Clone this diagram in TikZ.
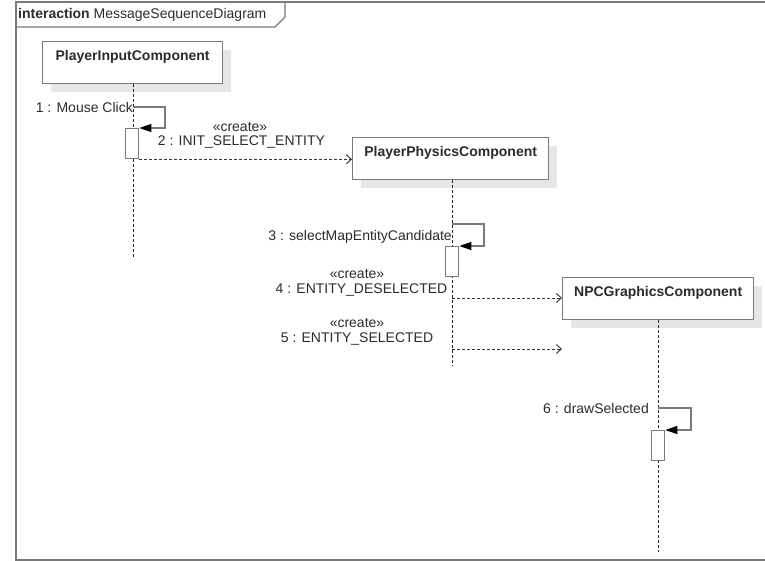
\documentclass[tikz,border=0pt]{standalone}
\usepackage{fontspec}
\setmainfont{Liberation Sans}
\usetikzlibrary{arrows.meta,shadows}
\definecolor{linegray}{HTML}{7A7A7A}
\definecolor{txt}{HTML}{2B2B2B}
\definecolor{shade}{HTML}{E6E6E6}
\tikzset{
  lifebox/.style={draw=linegray, line width=1.3pt, fill=white, rectangle, inner sep=0pt,
    anchor=north west, text height=19pt, text depth=23pt, align=center,
    font=\fontsize{14}{16}\selectfont\bfseries, text=txt,
    general shadow={fill=shade, shadow xshift=8pt, shadow yshift=-8pt}},
  lifeline/.style={draw=black!85, line width=0.9pt, dash pattern=on 3pt off 2pt},
  actbox/.style={draw=linegray, line width=1.3pt, fill=white, rectangle, inner sep=0pt,
    minimum width=13pt, minimum height=30pt, anchor=north west},
  selfmsg/.style={draw=linegray, line width=1.3pt, -{Triangle[length=12pt,width=8pt,color=black,fill=black]}},
  createmsg/.style={draw=black!80, line width=0.9pt, dash pattern=on 3pt off 2pt,
    -{Straight Barb[length=5pt,width=9pt,line width=0.9pt]}},
  lbl/.style={inner sep=0pt, font=\fontsize{14}{16}\selectfont, text=txt},
}
\begin{document}
\begin{tikzpicture}[x=1pt,y=-1pt]
\useasboundingbox (0,0) rectangle (765,561);
% frame
\draw[draw=linegray, line width=1.5pt] (770,2) -- (16,2) -- (16,560) -- (770,560);
\draw[draw=linegray, line width=1.2pt] (16,27) -- (275,27) -- (285,17) -- (285,2);
\node[lbl, anchor=west] (title) at (18,15) {\textbf{interaction} MessageSequenceDiagram};

% lifeline heads
\node[lifebox, minimum width=180pt] (pic) at (42,41) {PlayerInputComponent};
\node[lifebox, minimum width=196pt] (ppc) at (352,137) {PlayerPhysicsComponent};
\node[lifebox, minimum width=191pt] (npc) at (562,277) {NPCGraphicsComponent};

% lifeline ends
\coordinate (picend) at (133,258);
\coordinate (ppcend) at (452,366);
\coordinate (npcend) at (658,552);
\draw[lifeline] (pic.south -| picend) -- (picend);
\draw[lifeline] (ppc.south -| ppcend) -- (ppcend);
\draw[lifeline] (npc.south -| npcend) -- (npcend);

% activations
\node[actbox] (act1) at (125,128) {};
\node[actbox] (act3) at (445,246) {};
\node[actbox] (act6) at (651,430) {};

% self messages
\coordinate (m1) at (133,107);
\coordinate (m3) at (452,224);
\coordinate (m6) at (658,408);
\draw[selfmsg] (m1) -- (165,107) |- (act1.north east);
\draw[selfmsg] (m3) -- (484,224) |- (act3.north east);
\draw[selfmsg] (m6) -- (691,408) |- (act6.north east);
\node[lbl, anchor=east] (l1) at (133,107) {1 : Mouse Click};
\node[lbl, anchor=east] (l3) at (452,237) {3 : selectMapEntityCandidate};
\node[lbl, anchor=east] (l6) at (649,408) {6 : drawSelected};

% create messages
\coordinate (m4s) at (452,298);
\coordinate (m5s) at (452,349);
\coordinate (m5e) at (562,349);
\draw[createmsg] (act1.south east) -- (ppc.west |- act1.south east);
\draw[createmsg] (m4s) -- (npc.west |- m4s);
\draw[createmsg] (m5s) -- (m5e);

\node[lbl] (c2) at (240,127) {«create»};
\node[lbl] (l2) at (241.5,142) {2 : INIT\_SELECT\_ENTITY};
\node[lbl] (c4) at (357,274) {«create»};
\node[lbl] (l4) at (361.5,290) {4 : ENTITY\_DESELECTED};
\node[lbl] (c5) at (357,323) {«create»};
\node[lbl] (l5) at (357,339) {5 : ENTITY\_SELECTED};
\end{tikzpicture}
\end{document}
